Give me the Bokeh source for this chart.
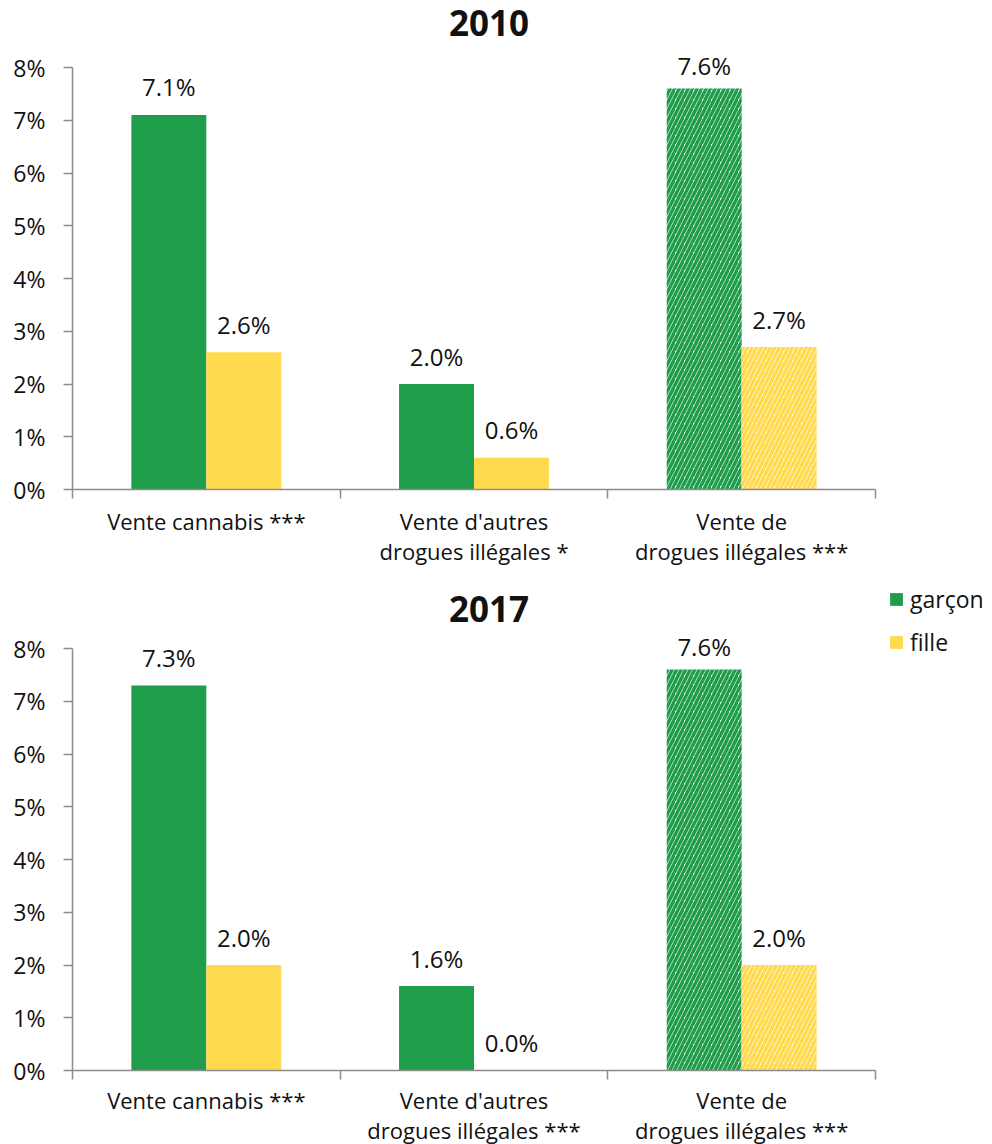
from bokeh.plotting import figure
from bokeh.layouts import column
from bokeh.models import FixedTicker, Legend, LegendItem, ColumnDataSource, Range1d, Label
from bokeh.core.properties import value
from bokeh.embed import file_html
from bokeh.resources import INLINE

# ---- data ----
years = ["2010", "2017"]
categories_2010 = ["Vente cannabis ***", "Vente d'autres\ndrogues illégales *", "Vente de\ndrogues illégales ***"]
categories_2017 = ["Vente cannabis ***", "Vente d'autres\ndrogues illégales ***", "Vente de\ndrogues illégales ***"]
garcon_2010 = [7.1, 2.0, 7.6]
fille_2010 = [2.6, 0.6, 2.7]
garcon_2017 = [7.3, 1.6, 7.6]
fille_2017 = [2.0, 0.0, 2.0]
hatched = [False, False, True]
series_names = ["garçon", "fille"]
y_ticks = [0, 1, 2, 3, 4, 5, 6, 7, 8]
y_tick_labels = ["0%", "1%", "2%", "3%", "4%", "5%", "6%", "7%", "8%"]

GREEN = "#1F9D4B"
YELLOW = "#FFDA4F"
AXIS = "#8C8C8C"
FONT = "Open Sans"
TXT = "#111111"

# ---- layout constants (pixels) ----
LEFT = 72
AXIS_W = 803           # pixel width of the 3 categories
FRAME_W = 990 - LEFT   # frame extends to the right to host the legend
PX_PER_UNIT_Y = 422 / 8
LABEL_CAP = y_ticks[-1] - 0.5   # data labels are kept inside the plot area (as in the source chart)


def make_panel(title, cats, garcon, fille, frame_h, border_bottom, title_y, label_standoff, with_legend):
    ncat = len(cats)
    x_end = -0.5 + FRAME_W / (AXIS_W / ncat)
    y_end = frame_h / PX_PER_UNIT_Y
    p = figure(frame_width=FRAME_W, frame_height=frame_h, output_backend="svg", toolbar_location=None,
               title=None, x_range=Range1d(-0.5, x_end), y_range=Range1d(0, y_end),
               min_border_left=LEFT, min_border_right=0, min_border_top=0,
               min_border_bottom=border_bottom)
    p.outline_line_color = None
    p.grid.grid_line_color = None
    p.background_fill_color = "white"

    p.add_layout(Label(x=(ncat - 1) / 2, y=title_y, x_units="data", y_units="screen", x_offset=15,
                       text=title, text_align="center", text_baseline="middle", text_font=FONT,
                       text_font_size="35px", text_font_style="bold", text_color=TXT))

    renderers = {}
    for name, vals, col, off in zip(series_names, [garcon, fille], [GREEN, YELLOW], [-0.14, 0.14]):
        xs = [i + off for i in range(ncat)]
        solid = dict(x=[x for x, h in zip(xs, hatched) if not h], top=[v for v, h in zip(vals, hatched) if not h])
        hat = dict(x=[x for x, h in zip(xs, hatched) if h], top=[v for v, h in zip(vals, hatched) if h])
        r = p.vbar(x="x", top="top", width=0.28, source=ColumnDataSource(solid), fill_color=col, line_color=None)
        p.vbar(x="x", top="top", width=0.28, source=ColumnDataSource(hat), fill_color="white",
               line_color=None, hatch_pattern="/", hatch_color=col, hatch_scale=9, hatch_weight=3.5)
        renderers[name] = r
        lab = ColumnDataSource(dict(x=xs, y=[min(v, LABEL_CAP) for v in vals], t=[f"{v:.1f}%" for v in vals]))
        p.text(x="x", y="y", text="t", source=lab, text_align="center", text_baseline="alphabetic",
               y_offset=-28, text_font=value(FONT), text_font_size="24px", text_color=TXT)

    # y axis
    ya = p.yaxis[0]
    ya.bounds = (y_ticks[0], y_ticks[-1])
    ya.ticker = FixedTicker(ticks=y_ticks, minor_ticks=[])
    ya.major_label_overrides = {t: l for t, l in zip(y_ticks, y_tick_labels)}
    ya.axis_line_color = AXIS
    ya.axis_line_width = 1.5
    ya.major_tick_line_color = AXIS
    ya.major_tick_line_width = 1.5
    ya.major_tick_out = 9
    ya.major_tick_in = 0
    ya.major_label_standoff = 18
    ya.major_label_text_font = FONT
    ya.major_label_text_font_size = "23px"
    ya.major_label_text_color = TXT

    # x axis
    xa = p.xaxis[0]
    xa.bounds = (-0.5, ncat - 0.5)
    xa.ticker = FixedTicker(ticks=list(range(ncat)), minor_ticks=[i - 0.5 for i in range(ncat + 1)])
    xa.major_label_overrides = {i: c for i, c in enumerate(cats)}
    xa.axis_line_color = AXIS
    xa.axis_line_width = 1.5
    xa.major_tick_line_color = None
    xa.major_tick_out = 0
    xa.major_tick_in = 0
    xa.minor_tick_line_color = AXIS
    xa.minor_tick_line_width = 1.5
    xa.minor_tick_out = 9
    xa.minor_tick_in = 0
    xa.major_label_standoff = label_standoff
    xa.major_label_text_font = FONT
    xa.major_label_text_font_size = "22px"
    xa.major_label_text_color = TXT
    xa.major_label_text_line_height = 1.0

    if with_legend:
        leg = Legend(items=[LegendItem(label=n, renderers=[renderers[n]]) for n in series_names],
                     location=(888 - LEFT, 412), orientation="vertical", border_line_color=None,
                     background_fill_alpha=0, padding=0, margin=0, spacing=11,
                     label_height=22, glyph_width=16, glyph_height=16, label_standoff=6,
                     label_text_font=FONT, label_text_font_size="23px", label_text_color=TXT)
        p.add_layout(leg, "center")
    return p


p1 = make_panel(years[0], categories_2010, garcon_2010, fille_2010, 489, 87, 467, 7, False)
p2 = make_panel(years[1], categories_2017, garcon_2017, fille_2017, 494, 74, 462, 5, True)
p = column(p1, p2)

open("out.html", "w").write(file_html(p, INLINE))
